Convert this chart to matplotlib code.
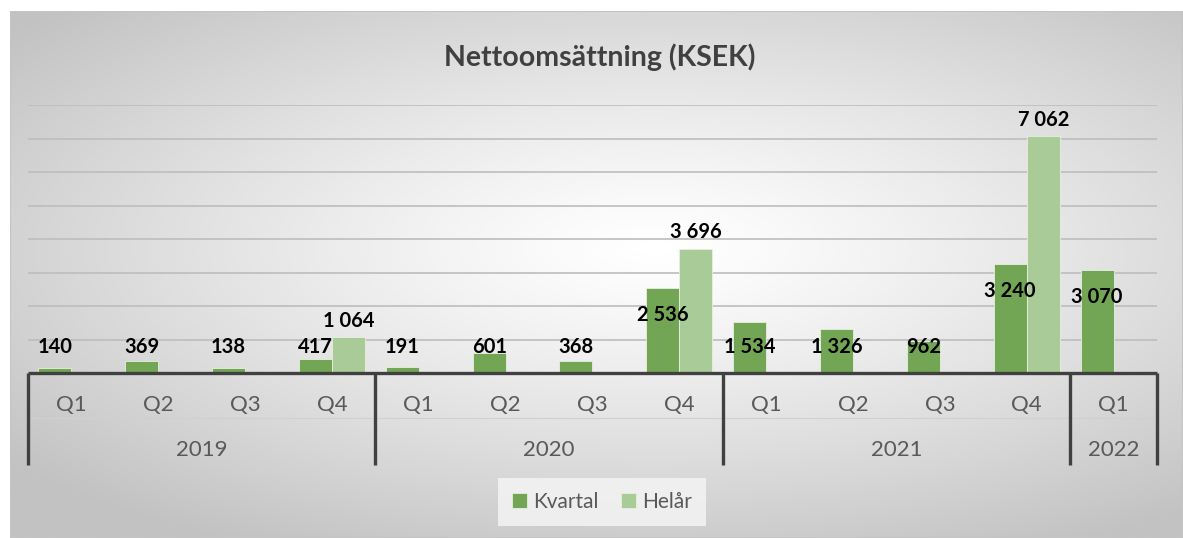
import numpy as np
import matplotlib.pyplot as plt
import matplotlib.transforms as mtransforms
from matplotlib.patches import Rectangle

# data
quarters = ["Q1", "Q2", "Q3", "Q4", "Q1", "Q2", "Q3", "Q4", "Q1", "Q2", "Q3", "Q4", "Q1"]
years = ["2019", "2020", "2021", "2022"]
year_len = [4, 4, 4, 1]
kvartal = [140, 369, 138, 417, 191, 601, 368, 2536, 1534, 1326, 962, 3240, 3070]
helar_idx = [3, 7, 11]
helar = [1064, 3696, 7062]

DARK = "#72a655"
LIGHT = "#a9cb97"
TXT = "#595959"

plt.rcParams['font.family'] = ['Lato', 'DejaVu Sans']

W, H = 1183, 538
fig = plt.figure(figsize=(W / 100, H / 100), dpi=100)

# background frame with radial gradient
bg = fig.add_axes([10 / W, 0, (W - 10) / W, (H - 11) / H])
bg.set_axis_off()
gx, gy = np.meshgrid(np.linspace(0, 1, 400), np.linspace(0, 1, 200))
r = np.sqrt(((gx - 0.55) / 1.0) ** 2 + ((gy - 0.45) / 0.9) ** 2)
shade = 1 - 0.24 * np.clip(r / 0.72, 0, 1) ** 1.2
bg.imshow(shade, cmap="gray", vmin=0, vmax=1, aspect="auto",
          extent=[0, 1, 0, 1], origin="upper", interpolation="bicubic")
bg.add_patch(Rectangle((0, 0), 1, 1, transform=bg.transAxes, fill=False,
                       edgecolor="#c4c4c4", lw=1.5))
bg.set_xlim(0, 1)
bg.set_ylim(0, 1)

# main plot
ax = fig.add_axes([28 / W, (H - 373) / H, (1157 - 28) / W, (373 - 105) / H])
ax.patch.set_alpha(0)
x = np.arange(len(quarters))
bw = 0.38

ax.set_ylim(0, 8000)
ax.set_xlim(-0.5, len(quarters) - 0.5)
ax.set_yticks(np.arange(1000, 8001, 1000))
ax.yaxis.grid(True, color="#bdbdbd", lw=1.2)
ax.set_axisbelow(True)
for s in ax.spines.values():
    s.set_visible(False)
ax.tick_params(left=False, labelleft=False, bottom=False, labelbottom=False)

ax.bar(x - bw / 2, kvartal, bw, color=DARK, edgecolor="#e8f0e0", lw=0.6, label="Kvartal")
hx = x[helar_idx] + bw / 2
ax.bar(hx, helar, bw, color=LIGHT, edgecolor="#e8f0e0", lw=0.6, label="Helår")


def fmt(v):
    return f"{v:,}".replace(",", " ")


for xi, v in zip(x, kvartal):
    ly = 780 if v < 2000 else v - 800
    ax.text(xi - bw / 2, ly, fmt(v), ha="center", va="center",
            fontsize=14.5, fontweight="bold", color="black")
for xi, v in zip(hx, helar):
    ax.text(xi, v + 500, fmt(v), ha="center", va="center",
            fontsize=14.5, fontweight="bold", color="black")

# multi-level category axis
trans = mtransforms.blended_transform_factory(ax.transData, ax.transAxes)
ax.plot([-0.5, len(quarters) - 0.5], [0, 0], transform=trans, color="#404040",
        lw=2.4, clip_on=False, solid_capstyle="butt")
ax.plot([-0.5, len(quarters) - 0.5], [-0.168, -0.168], transform=trans,
        color="#d0d0d0", lw=0.8, clip_on=False)
for xi, q in zip(x, quarters):
    ax.text(xi, -0.118, q, transform=trans, ha="center", va="center",
            fontsize=16, color=TXT)
start = 0
seps = [-0.5]
for yr, n in zip(years, year_len):
    ax.text(start + (n - 1) / 2, -0.287, yr, transform=trans, ha="center",
            va="center", fontsize=16, color=TXT)
    start += n
    seps.append(start - 0.5)
for sx in seps:
    ax.plot([sx, sx], [0, -0.345], transform=trans, color="#404040", lw=2.4,
            clip_on=False, solid_capstyle="butt")

fig.text(600 / W, 1 - 57 / H, "Nettoomsättning (KSEK)", ha="center", va="center",
         fontsize=20.5, fontweight="bold", color="#404040")

leg = fig.legend(loc="center", bbox_to_anchor=(602 / W, 1 - 502 / H), ncol=2,
                 frameon=True, fontsize=15, handlelength=0.7, handleheight=0.7,
                 handletextpad=0.3, columnspacing=1.1, borderpad=0.35,
                 borderaxespad=0)
leg.get_frame().set_facecolor("#f6f6f6")
leg.get_frame().set_edgecolor("none")
leg.get_frame().set_boxstyle("square")
for t in leg.get_texts():
    t.set_color(TXT)

fig.savefig("out.png", dpi=100)
